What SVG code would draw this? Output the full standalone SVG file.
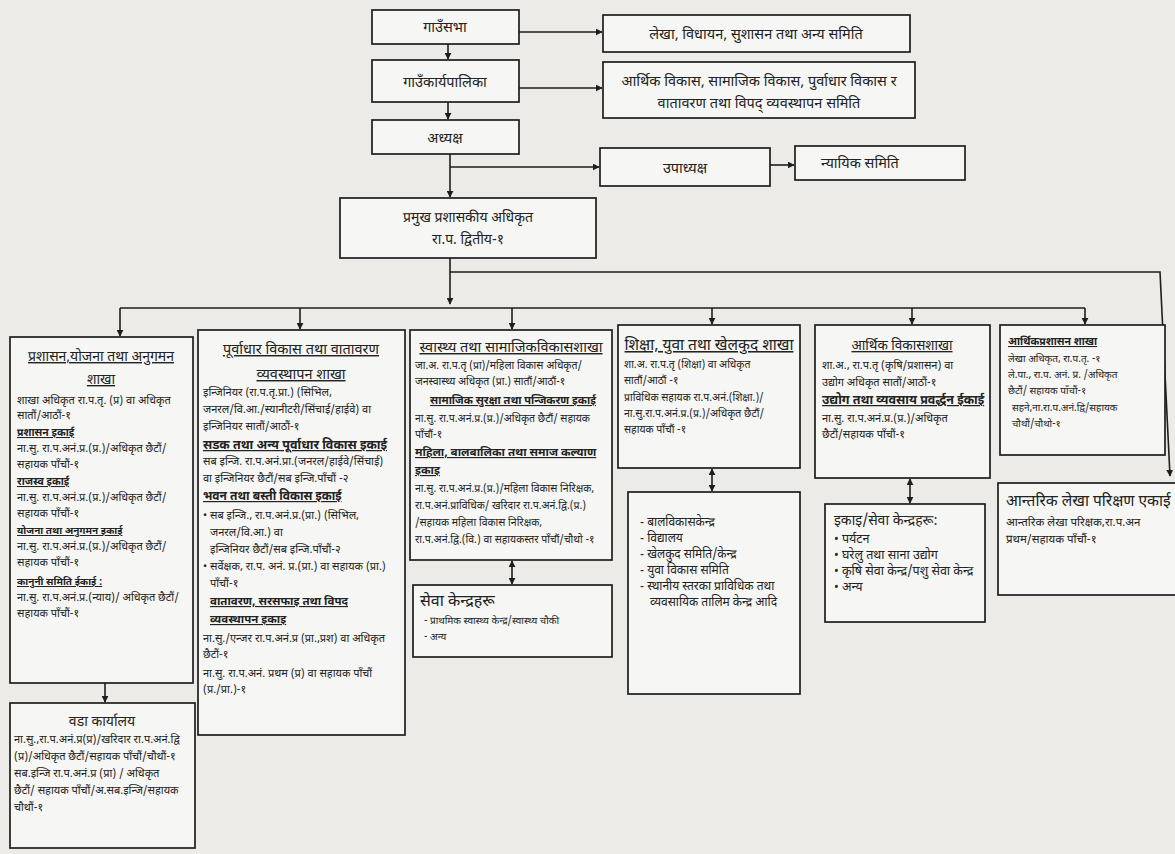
<svg xmlns="http://www.w3.org/2000/svg" width="1175" height="854" viewBox="0 0 1175 854">
<style>
.bg{fill:#ecebe8}
.box{fill:#f6f6f4;stroke:#1e1e1e;stroke-width:1.7}
.ln{fill:none;stroke:#1e1e1e;stroke-width:1.6}
text{font-family:"Noto Sans Devanagari","Lohit Devanagari","Noto Sans","DejaVu Sans",sans-serif;fill:#222}
.c{text-anchor:middle}
.top{font-size:14.5px}
.h{text-decoration:underline}
.u{font-weight:bold;text-decoration:underline}
</style>
<defs>
<marker id="ah" viewBox="0 0 10 10" refX="9" refY="5" markerWidth="7" markerHeight="7" orient="auto-start-reverse" markerUnits="userSpaceOnUse">
<path d="M0,0 L10,5 L0,10 z" fill="#1e1e1e"/>
</marker>
</defs>
<rect class="bg" x="0" y="0" width="1175" height="854"/>

<g id="connectors">
<path class="ln" d="M519,32 H602" marker-end="url(#ah)"/>
<path class="ln" d="M519,88 H602" marker-end="url(#ah)"/>
<path class="ln" d="M448,44 V59" marker-end="url(#ah)"/>
<path class="ln" d="M448,102 V119" marker-end="url(#ah)"/>
<path class="ln" d="M450,154 V197" marker-end="url(#ah)"/>
<path class="ln" d="M450,167 H599" marker-end="url(#ah)"/>
<path class="ln" d="M770,165 H794" marker-end="url(#ah)"/>
<path class="ln" d="M450,258 V304" marker-end="url(#ah)"/>
<path class="ln" d="M450,272 H1160 L1170,476" marker-end="url(#ah)"/>
<path class="ln" d="M120,308 H1085"/>
<path class="ln" d="M120,308 V336" marker-end="url(#ah)"/>
<path class="ln" d="M300,308 V329" marker-end="url(#ah)"/>
<path class="ln" d="M512,308 V329" marker-end="url(#ah)"/>
<path class="ln" d="M712,308 V324" marker-end="url(#ah)"/>
<path class="ln" d="M912,308 V324" marker-end="url(#ah)"/>
<path class="ln" d="M1085,308 V324" marker-end="url(#ah)"/>
<path class="ln" d="M105,683 V702" marker-end="url(#ah)"/>
<path class="ln" d="M512,561 V584" marker-start="url(#ah)" marker-end="url(#ah)"/>
<path class="ln" d="M712,469 V491" marker-start="url(#ah)" marker-end="url(#ah)"/>
<path class="ln" d="M910,479 V503" marker-start="url(#ah)" marker-end="url(#ah)"/>
</g>

<g id="n-gaunsabha">
<rect class="box" x="372" y="10" width="147" height="34"/>
<text class="c top" x="445" y="32">गाउँसभा</text>
</g>
<g id="n-lekha-samiti">
<rect class="box" x="603" y="15" width="307" height="37"/>
<text class="c top" x="756" y="39">लेखा, विधायन, सुशासन तथा अन्य समिति</text>
</g>
<g id="n-gaunkaryapalika">
<rect class="box" x="372" y="60" width="147" height="42"/>
<text class="c top" x="445" y="87">गाउँकार्यपालिका</text>
</g>
<g id="n-arthik-samiti">
<rect class="box" x="603" y="62" width="312" height="56"/>
<text class="c top" x="759" y="86">आर्थिक विकास, सामाजिक विकास, पुर्वाधार विकास र</text>
<text class="c top" x="759" y="108">वातावरण तथा विपद् व्यवस्थापन समिति</text>
</g>
<g id="n-adhyaksha">
<rect class="box" x="372" y="120" width="147" height="34"/>
<text class="c top" x="445" y="143">अध्यक्ष</text>
</g>
<g id="n-upadhyaksha">
<rect class="box" x="600" y="148" width="170" height="38"/>
<text class="c top" x="685" y="173">उपाध्यक्ष</text>
</g>
<g id="n-nyayik">
<rect class="box" x="795" y="146" width="170" height="34"/>
<text class="c top" x="860" y="168">न्यायिक समिति</text>
</g>
<g id="n-cao">
<rect class="box" x="340" y="198" width="256" height="60"/>
<text class="c" x="468" y="222" style="font-size:14px">प्रमुख प्रशासकीय अधिकृत</text>
<text class="c" x="468" y="244" style="font-size:14px">रा.प. द्वितीय-१</text>
</g>

<g id="n-prashasan" style="font-size:11px">
<rect class="box" x="10" y="337" width="183" height="346"/>
<text class="c h" x="101" y="361" style="font-size:14px">प्रशासन,योजना तथा अनुगमन</text>
<text class="c h" x="101" y="384" style="font-size:14px">शाखा</text>
<text x="17" y="404">शाखा अधिकृत रा.प.तृ. (प्र) वा अधिकृत</text>
<text x="17" y="419">सातौं/आठौं-१</text>
<text class="u" x="17" y="436" style="font-size:10.5px">प्रशासन इकाई</text>
<text x="17" y="452">ना.सु. रा.प.अनं.प्र.(प्र.)/अधिकृत छैटौं/</text>
<text x="17" y="468">सहायक पाँचौं-१</text>
<text class="u" x="17" y="485" style="font-size:10.5px">राजस्व इकाई</text>
<text x="17" y="501">ना.सु. रा.प.अनं.प्र.(प्र.)/अधिकृत छैटौं/</text>
<text x="17" y="517">सहायक पाँचौं-१</text>
<text class="u" x="17" y="534" style="font-size:10px">योजना तथा अनुगमन इकाई</text>
<text x="17" y="550">ना.सु. रा.प.अनं.प्र.(प्र.)/अधिकृत छैटौं/</text>
<text x="17" y="566">सहायक पाँचौं-१</text>
<text class="u" x="17" y="585" style="font-size:10px">कानुनी समिति ईकाई :</text>
<text x="17" y="601">ना.सु. रा.प.अनं.प्र.(न्याय)/ अधिकृत छैटौं/</text>
<text x="17" y="617">सहायक पाँचौं-१</text>
</g>
<g id="n-wada" style="font-size:11px">
<rect class="box" x="10" y="703" width="185" height="145"/>
<text class="c" x="102" y="726" style="font-size:14px">वडा कार्यालय</text>
<text x="14" y="743">ना.सु.,रा.प.अनं.प्र(प्र)/खरिदार रा.प.अनं.द्वि</text>
<text x="14" y="760">(प्र)/अधिकृत छैटौं/सहायक पाँचौं/चौथौं-१</text>
<text x="14" y="777">सब.इन्जि रा.प.अनं.प्र (प्रा) / अधिकृत</text>
<text x="14" y="794">छैटौं/ सहायक पाँचौं/अ.सब.इन्जि/सहायक</text>
<text x="14" y="811">चौथौं-१</text>
</g>

<g id="n-purwadhar" style="font-size:11px">
<rect class="box" x="198" y="330" width="207" height="405"/>
<text class="c h" x="301" y="354" style="font-size:14.5px">पूर्वाधार विकास तथा वातावरण</text>
<text class="c h" x="301" y="379" style="font-size:14.5px">व्यवस्थापन शाखा</text>
<text x="203" y="396">इन्जिनियर (रा.प.तृ.प्रा.) (सिभिल,</text>
<text x="203" y="413">जनरल/वि.आ./स्यानीटरी/सिंचाई/हाईवे) वा</text>
<text x="203" y="430">इन्जिनियर सातौं/आठौं-१</text>
<text class="u" x="203" y="449" style="font-size:12.5px">सडक तथा अन्य पूर्वाधार विकास इकाई</text>
<text x="203" y="465">सब इन्जि. रा.प.अनं.प्रा.(जनरल/हाईवे/सिंचाई)</text>
<text x="203" y="482">वा इन्जिनियर छैटौं/सब इन्जि.पाँचौं -२</text>
<text class="u" x="203" y="500" style="font-size:12px">भवन तथा बस्ती विकास इकाई</text>
<text x="203" y="519">• सब इन्जि., रा.प.अनं.प्र.(प्रा.) (सिभिल,</text>
<text x="210" y="536">जनरल/वि.आ.) वा</text>
<text x="210" y="553">इन्जिनियर छैटौं/सब इन्जि.पाँचौं-२</text>
<text x="203" y="570">• सर्वेक्षक, रा.प. अनं. प्र.(प्रा.) वा सहायक (प्रा.)</text>
<text x="210" y="587">पाँचौं-१</text>
<text class="u" x="210" y="605" style="font-size:11.5px">वातावरण, सरसफाइ तथा विपद</text>
<text class="u" x="210" y="623" style="font-size:11.5px">व्यवस्थापन इकाइ</text>
<text x="203" y="642">ना.सु./एन्जर रा.प.अनं.प्र (प्रा.,प्रश) वा अधिकृत</text>
<text x="203" y="658">छैटौं-१</text>
<text x="203" y="677">ना.सु. रा.प.अनं. प्रथम (प्र) वा सहायक पाँचौं</text>
<text x="203" y="693">(प्र./प्रा.)-१</text>
</g>

<g id="n-swasthya" style="font-size:10.5px">
<rect class="box" x="410" y="330" width="202" height="230"/>
<text class="c h" x="511" y="352" style="font-size:14.5px">स्वास्थ्य तथा सामाजिकविकासशाखा</text>
<text x="415" y="369">जा.अ. रा.प.तृ (प्रा)/महिला विकास अधिकृत/</text>
<text x="415" y="385">जनस्वास्थ्य अधिकृत (प्रा.) सातौं/आठौं-१</text>
<text class="c u" x="513" y="404" style="font-size:11px">सामाजिक सुरक्षा तथा पन्जिकरण इकाई</text>
<text x="415" y="422">ना.सु. रा.प.अनं.प्र.(प्र.)/अधिकृत छैटौं/ सहायक</text>
<text x="415" y="438">पाँचौं-१</text>
<text class="u" x="415" y="456" style="font-size:11.5px">महिला, बालबालिका तथा समाज कल्याण</text>
<text class="u" x="415" y="474" style="font-size:11.5px">इकाइ</text>
<text x="415" y="492">ना.सु. रा.प.अनं.प्र.(प्र.)/महिला विकास निरिक्षक,</text>
<text x="415" y="509">रा.प.अनं.प्राविधिक/ खरिदार रा.प.अनं.द्वि.(प्र.)</text>
<text x="415" y="526">/सहायक महिला विकास निरिक्षक,</text>
<text x="415" y="543">रा.प.अनं.द्वि.(वि.) वा सहायकस्तर पाँचौं/चौथो -१</text>
</g>
<g id="n-sewa-swasthya" style="font-size:10px">
<rect class="box" x="413" y="585" width="199" height="72"/>
<text x="420" y="606" style="font-size:16px">सेवा केन्द्रहरू</text>
<text x="424" y="624">- प्राथमिक स्वास्थ्य केन्द्र/स्वास्थ्य चौकी</text>
<text x="424" y="640">- अन्य</text>
</g>

<g id="n-shiksha" style="font-size:10.5px">
<rect class="box" x="618" y="325" width="182" height="143"/>
<text class="c h" x="709" y="350" style="font-size:15.5px">शिक्षा, युवा तथा खेलकुद शाखा</text>
<text x="624" y="368">शा.अ. रा.प.तृ (शिक्षा) वा अधिकृत</text>
<text x="624" y="384">सातौं/आठौं -१</text>
<text x="624" y="401">प्राविधिक सहायक रा.प.अनं.(शिक्षा.)/</text>
<text x="624" y="417">ना.सु.रा.प.अनं.प्र.(प्र.)/अधिकृत छैटौं/</text>
<text x="624" y="433">सहायक पाँचौं -१</text>
</g>
<g id="n-shiksha-kendra" style="font-size:12px">
<rect class="box" x="628" y="492" width="172" height="202"/>
<text x="640" y="526">- बालविकासकेन्द्र</text>
<text x="640" y="542">- विद्यालय</text>
<text x="640" y="558">- खेलकुद समिति/केन्द्र</text>
<text x="640" y="574">- युवा विकास समिति</text>
<text x="640" y="590">- स्थानीय स्तरका प्राविधिक तथा</text>
<text x="650" y="606">व्यवसायिक तालिम केन्द्र आदि</text>
</g>

<g id="n-arthik" style="font-size:11px">
<rect class="box" x="815" y="325" width="175" height="153"/>
<text class="c h" x="902" y="350" style="font-size:13.5px">आर्थिक विकासशाखा</text>
<text x="822" y="369">शा.अ., रा.प.तृ (कृषि/प्रशासन) वा</text>
<text x="822" y="386">उद्योग अधिकृत सातौं/आठौं-१</text>
<text class="u" x="822" y="404" style="font-size:12.5px">उद्योग तथा व्यवसाय प्रवर्द्धन ईकाई</text>
<text x="822" y="422">ना.सु. रा.प.अनं.प्र.(प्र.)/अधिकृत</text>
<text x="822" y="438">छैटौं/सहायक पाँचौं-१</text>
</g>
<g id="n-arthik-kendra" style="font-size:12.5px">
<rect class="box" x="825" y="504" width="160" height="118"/>
<text x="834" y="525" style="font-size:14px">इकाइ/सेवा केन्द्रहरू:</text>
<text x="834" y="543">• पर्यटन</text>
<text x="834" y="559">• घरेलु तथा साना उद्योग</text>
<text x="834" y="575">• कृषि सेवा केन्द्र/पशु सेवा केन्द्र</text>
<text x="834" y="591">• अन्य</text>
</g>

<g id="n-arthik-prashasan" style="font-size:10px">
<rect class="box" x="1000" y="325" width="165" height="130"/>
<text class="h" x="1008" y="345" style="font-size:10.5px;font-weight:bold">आर्थिकप्रशासन शाखा</text>
<text x="1008" y="362">लेखा अधिकृत, रा.प.तृ. -१</text>
<text x="1008" y="378">ले.पा., रा.प. अनं. प्र. /अधिकृत</text>
<text x="1008" y="394">छैटौं/ सहायक पाँचौं-१</text>
<text x="1012" y="411">सहने,ना.रा.प.अनं.द्वि/सहायक</text>
<text x="1012" y="427">चौथौं/चौथो-१</text>
</g>
<g id="n-antarik" style="font-size:11.5px">
<rect class="box" x="998" y="483" width="182" height="112"/>
<text x="1006" y="506" style="font-size:15.5px">आन्तरिक लेखा परिक्षण एकाई</text>
<text x="1006" y="526">आन्तरिक लेखा परिक्षक,रा.प.अन</text>
<text x="1006" y="543">प्रथम/सहायक पाँचौं-१</text>
</g>
</svg>
